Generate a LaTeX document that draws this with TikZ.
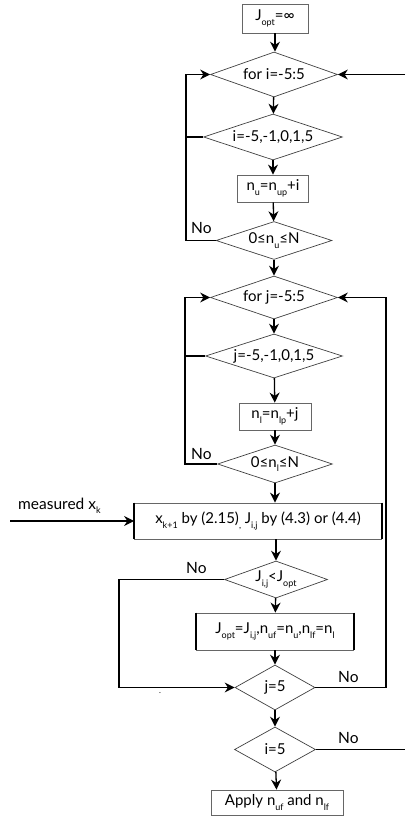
\documentclass[tikz,border=0pt]{standalone}
\usepackage{fontspec}
\setmainfont{Lato}
\usetikzlibrary{shapes.geometric,arrows.meta}
\newcommand{\lsub}[1]{\raisebox{-0.6ex}{\fontsize{9}{9}\selectfont #1}}
\newcommand{\dtext}[1]{\makebox[0pt][c]{#1}}
\tikzset{
  box/.style={draw=black!60, line width=0.8pt, rectangle, inner sep=0pt, font=\fontsize{15}{17}\selectfont},
  dia/.style={draw=black!75, line width=0.7pt, diamond, inner sep=0pt, font=\fontsize{15}{17}\selectfont},
  conn/.style={line width=1.3pt, black},
  arr/.style={conn, -{Stealth[length=10pt,width=10pt]}},
  lbl/.style={font=\fontsize{15.5}{17}\selectfont, inner sep=0pt},
  edge/.style={line width=1.8pt, black}
}
\begin{document}
\begin{tikzpicture}[x=1pt,y=-1pt]
\useasboundingbox (0,0) rectangle (405,826);
\node[box, minimum width=66pt, minimum height=29pt] (jopt) at (275,18.5) {J\lsub{opt}=∞};
\node[dia, minimum width=127pt, minimum height=45pt] (fori) at (274,74.5) {\dtext{for i=-5:5}};
\node[dia, minimum width=139pt, minimum height=46pt] (isel) at (273,137) {\dtext{i=-5,-1,0,1,5}};
\node[box, minimum width=71pt, minimum height=27pt] (nu) at (273,188.5) {n\lsub{u}=n\lsub{up}+i};
\node[dia, minimum width=116pt, minimum height=38pt] (chku) at (274,240.5) {\dtext{0≤n\lsub{u}≤N}};
\node[dia, minimum width=127pt, minimum height=43pt] (forj) at (274,297.5) {\dtext{for j=-5:5}};
\node[dia, minimum width=137pt, minimum height=44pt] (jsel) at (274,356) {\dtext{j=-5,-1,0,1,5}};
\node[box, minimum width=72pt, minimum height=27pt] (nl) at (275,416.5) {n\lsub{l}=n\lsub{lp}+j};
\node[dia, minimum width=115pt, minimum height=38pt] (chkl) at (275,464) {\dtext{0≤n\lsub{l}≤N}};
\node[box, minimum width=247pt, minimum height=36pt] (calc) at (258,521) {x\lsub{k+1} by (2.15)\lsub{,} J\lsub{i,j} by (4.3) or (4.4)};
\node[dia, minimum width=103pt, minimum height=37pt] (cmp) at (276,579.5) {\dtext{J\lsub{i,j}<J\lsub{opt}}};
\node[box, minimum width=157pt, minimum height=37pt] (upd) at (275,631.5) {J\lsub{opt}=J\lsub{i,j},n\lsub{uf}=n\lsub{u},n\lsub{lf}=n\lsub{l}};
\node[dia, minimum width=80pt, minimum height=45pt] (jend) at (275,687.5) {\dtext{j=5}};
\node[dia, minimum width=81pt, minimum height=45pt] (iend) at (275,749.5) {\dtext{i=5}};
\node[box, minimum width=132pt, minimum height=25pt] (apply) at (277,802.5) {Apply n\lsub{uf} and n\lsub{lf}};
% thick side edges
\draw[edge] (calc.north west) -- (calc.south west);
\draw[edge] (calc.north east) -- (calc.south east);
\draw[edge] (upd.north west) -- (upd.south west);
\draw[edge] (upd.north east) -- (upd.south east);
% main flow
\draw[arr] (jopt.south) -- (jopt.south |- fori.north);
\draw[arr] (fori) -- (isel);
\draw[arr] (isel) -- (nu);
\draw[arr] (nu) -- (chku);
\draw[arr] (chku) -- (forj);
\draw[arr] (forj) -- (jsel);
\draw[arr] (jsel) -- (nl);
\draw[arr] (nl) -- (chkl);
\draw[arr] (chkl.south) -- (chkl.south |- calc.north);
\draw[arr] (cmp.north |- calc.south) -- (cmp.north);
\draw[arr] (cmp) -- (upd);
\draw[arr] (upd) -- (jend);
\draw[arr] (jend) -- (iend);
\draw[arr] (iend) -- (apply);
% i loop
\coordinate (li) at (186,0);
\draw[arr] (chku.west) -| (li |- isel.west) |- (fori.west);
\draw[conn] (isel.west) -- (li |- isel.west);
\node[lbl, anchor=south west] (noa) at (191,234) {No};
\coordinate (ri) at (405,0);
\draw[arr] (ri |- fori.east) -- (fori.east);
\draw[conn] (iend.east) -- (ri |- iend.east);
\node[lbl, anchor=south west] (nob) at (338,744) {No};
% j loop
\coordinate (lj) at (185,0);
\draw[arr] (chkl.west) -| (lj |- jsel.west) |- (forj.west);
\draw[conn] (jsel.west) -- (lj |- jsel.west);
\node[lbl, anchor=south west] (noc) at (191,460) {No};
\coordinate (rj) at (386,0);
\draw[arr] (jend.east) -| (rj |- forj.east) -- (forj.east);
\node[lbl, anchor=south west] (nod) at (338,683) {No};
% compare bypass
\coordinate (lc) at (119,0);
\draw[arr] (cmp.west) -| (lc |- jend.west) -- (jend.west);
\node[lbl, anchor=south west] (noe) at (186,574) {No};
\node[lbl, font=\fontsize{8}{8}\selectfont] (dot) at (160,693) {.};
% measured input
\coordinate (mi) at (10,521);
\draw[arr] (mi) -- (calc.west);
\node[lbl, anchor=south west] (meas) at (18,514) {measured x\lsub{k}};
\end{tikzpicture}
\end{document}
